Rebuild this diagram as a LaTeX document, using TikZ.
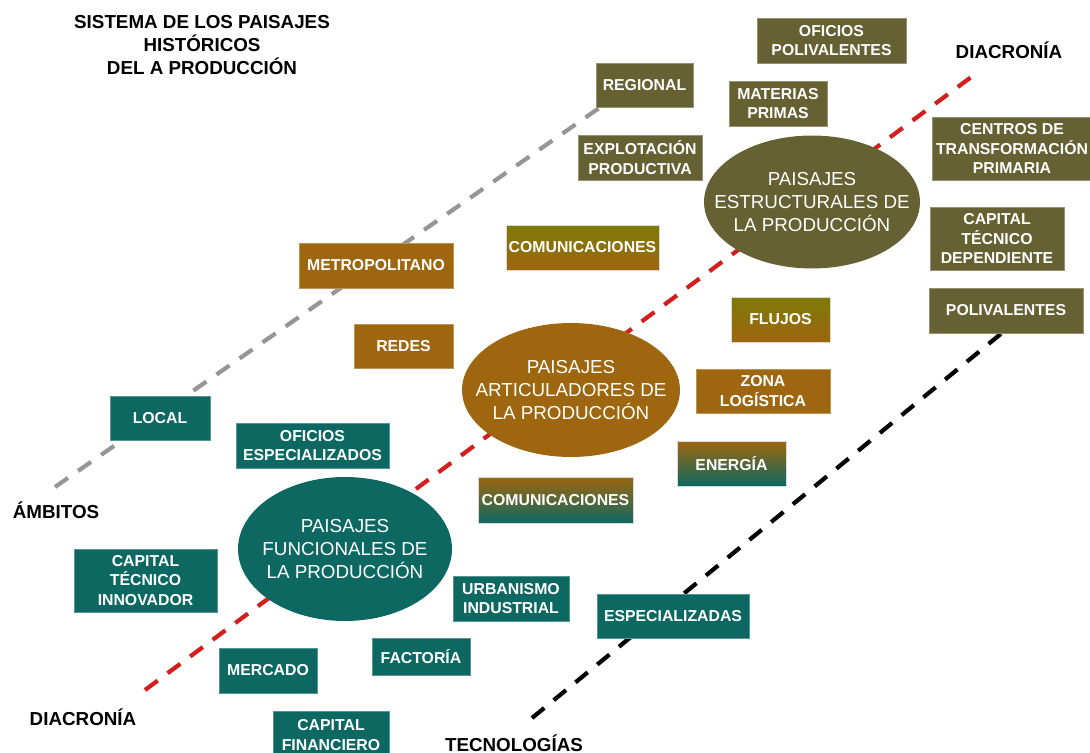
\documentclass[tikz,border=0pt]{standalone}
\usepackage{fontspec}
\setmainfont{Liberation Sans}
\usetikzlibrary{shapes.geometric}
\definecolor{olv}{RGB}{102,97,50}
\definecolor{brn}{RGB}{158,102,14}
\definecolor{tea}{RGB}{14,104,98}
\definecolor{ylw}{RGB}{125,122,8}
\definecolor{rdl}{RGB}{212,30,30}
\definecolor{gry}{RGB}{150,150,150}
\tikzset{
  bx/.style={rectangle, inner sep=0pt, align=center, text=white,
    font=\fontsize{9}{11}\selectfont\bfseries, draw=#1!70!white, line width=0.5pt, fill=#1},
  gbx/.style 2 args={rectangle, inner sep=0pt, align=center, text=white,
    font=\fontsize{9}{11}\selectfont\bfseries, top color=#1, bottom color=#2, draw=white!85!black, line width=0.4pt},
  ell/.style={ellipse, inner sep=0pt, fill=#1},
  elltext/.style={align=center, text=white, inner sep=0pt, font=\fontsize{10.7}{12.9}\selectfont},
  lbl/.style={align=center, text=black, font=\fontsize{10.7}{13}\selectfont\bfseries},
  axis/.style={line width=2.4pt, dash pattern=on 9pt off 7pt, #1}
}
\begin{document}
\begin{tikzpicture}[x=0.02cm,y=-0.02cm]
\useasboundingbox (0,0) rectangle (1090,753);
% axis endpoints
\coordinate (g1) at (55,487);  \coordinate (g2) at (602,106);
\coordinate (r1) at (145,690); \coordinate (r2) at (978,72);
\coordinate (k1) at (532,718); \coordinate (k2) at (1008,328);
\draw[axis=gry] (g1) -- (g2);
\draw[axis=rdl] (r1) -- (r2);
\draw[axis=black] (k1) -- (k2);

% labels
\node[lbl] (title) at (202,45) {SISTEMA DE LOS PAISAJES\\HISTÓRICOS\\DEL A PRODUCCIÓN};
\node[lbl] (diac1) at (1009,50) {DIACRONÍA};
\node[lbl] (ambit) at (56,510) {ÁMBITOS};
\node[lbl] (diac2) at (83,717) {DIACRONÍA};
\node[lbl] (tecno) at (514,743) {TECNOLOGÍAS};

% ellipses
\node[ell=olv, minimum width=4.32cm, minimum height=2.66cm] (estr) at (812,202) {};
\node[elltext] (estrt) at (estr.center) {PAISAJES\\ESTRUCTURALES DE\\LA PRODUCCIÓN};
\node[ell=brn, minimum width=4.36cm, minimum height=2.68cm] (art) at (571,390) {};
\node[elltext] (artt) at (art.center) {PAISAJES\\ARTICULADORES DE\\LA PRODUCCIÓN};
\node[ell=tea, minimum width=4.28cm, minimum height=2.88cm] (func) at (345,549) {};
\node[elltext] (funct) at (func.center) {PAISAJES\\FUNCIONALES DE\\LA PRODUCCIÓN};

% olive boxes
\node[bx=olv, minimum width=2.98cm, minimum height=0.9cm] (ofpol) at (831.5,40.5) {OFICIOS\\POLIVALENTES};
\node[bx=olv, minimum width=1.94cm, minimum height=0.88cm] (reg) at (644.5,85) {REGIONAL};
\node[bx=olv, minimum width=1.96cm, minimum height=0.9cm] (mat) at (778,103.5) {MATERIAS\\PRIMAS};
\node[bx=olv, minimum width=2.48cm, minimum height=0.9cm] (expl) at (640,157.5) {EXPLOTACIÓN\\PRODUCTIVA};
\node[bx=olv, minimum width=3.18cm, minimum height=1.26cm] (cent) at (1012,148.5) {CENTROS DE\\TRANSFORMACIÓN\\PRIMARIA};
\node[bx=olv, minimum width=2.68cm, minimum height=1.26cm] (capdep) at (997,238.5) {CAPITAL\\TÉCNICO\\DEPENDIENTE};
\node[bx=olv, minimum width=3.08cm, minimum height=0.9cm] (poli) at (1006,310.5) {POLIVALENTES};

% brown boxes
\node[bx=brn, minimum width=3.08cm, minimum height=0.9cm] (metro) at (376,265.5) {METROPOLITANO};
\node[bx=brn, minimum width=1.98cm, minimum height=0.88cm] (redes) at (403.5,346) {REDES};
\node[bx=brn, minimum width=2.68cm, minimum height=0.88cm] (zona) at (763,391) {ZONA\\LOGÍSTICA};

% gradient boxes
\node[gbx={ylw}{brn}, minimum width=3.06cm, minimum height=0.9cm] (com1) at (582.5,247.5) {COMUNICACIONES};
\node[gbx={ylw}{brn}, minimum width=1.98cm, minimum height=0.9cm] (flu) at (780.5,319.5) {FLUJOS};
\node[gbx={brn}{tea}, minimum width=2.18cm, minimum height=0.9cm] (ener) at (731.5,463.5) {ENERGÍA};
\node[gbx={brn}{tea}, minimum width=3.1cm, minimum height=0.92cm] (com2) at (555.5,500) {COMUNICACIONES};

% teal boxes
\node[bx=tea, minimum width=2.0cm, minimum height=0.88cm] (local) at (160,418) {LOCAL};
\node[bx=tea, minimum width=3.06cm, minimum height=0.9cm] (ofesp) at (312.5,445.5) {OFICIOS\\ESPECIALIZADOS};
\node[bx=tea, minimum width=2.86cm, minimum height=1.26cm] (capinn) at (145.5,580.5) {CAPITAL\\TÉCNICO\\INNOVADOR};
\node[bx=tea, minimum width=2.32cm, minimum height=0.9cm] (urb) at (511,598.5) {URBANISMO\\INDUSTRIAL};
\node[bx=tea, minimum width=1.96cm, minimum height=0.74cm] (fact) at (421,657) {FACTORÍA};
\node[bx=tea, minimum width=1.96cm, minimum height=0.9cm] (merc) at (268,670.5) {MERCADO};
\node[bx=tea, minimum width=2.32cm, minimum height=0.96cm] (capfin) at (331,735) {CAPITAL\\FINANCIERO};
\node[bx=tea, minimum width=3.04cm, minimum height=0.88cm] (espe) at (673,616) {ESPECIALIZADAS};
\end{tikzpicture}
\end{document}
